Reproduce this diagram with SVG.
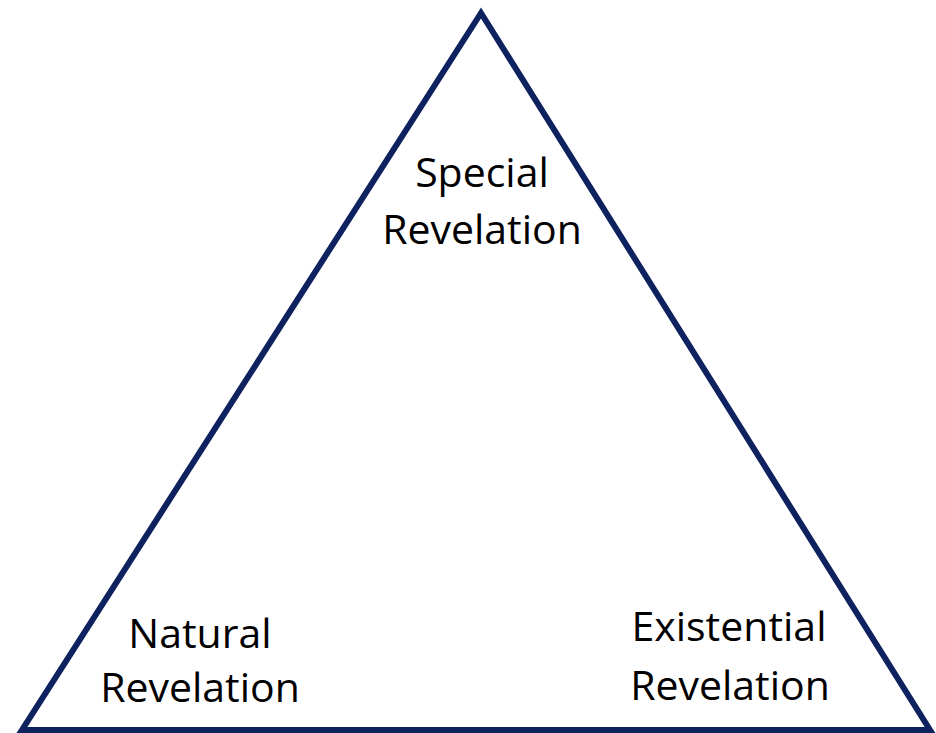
<svg xmlns="http://www.w3.org/2000/svg" width="936" height="733" viewBox="0 0 936 733">
  <style>
    .lbl { font-family: "Open Sans", "Liberation Sans", sans-serif; font-size: 41px; fill: #000000; text-anchor: middle; }
    .edge { fill: none; stroke: #0f2260; stroke-width: 6; stroke-linejoin: miter; stroke-miterlimit: 10; }
  </style>
  <rect width="936" height="733" fill="#ffffff"/>
  <g id="connectors">
    <polygon class="edge" points="481,13 22,730 930,730"/>
  </g>
  <g id="special">
    <text class="lbl" x="482" y="187">Special</text>
    <text class="lbl" x="482" y="244">Revelation</text>
  </g>
  <g id="natural">
    <text class="lbl" x="200" y="648">Natural</text>
    <text class="lbl" x="200" y="702">Revelation</text>
  </g>
  <g id="existential">
    <text class="lbl" x="729" y="641">Existential</text>
    <text class="lbl" x="730" y="700">Revelation</text>
  </g>
</svg>
